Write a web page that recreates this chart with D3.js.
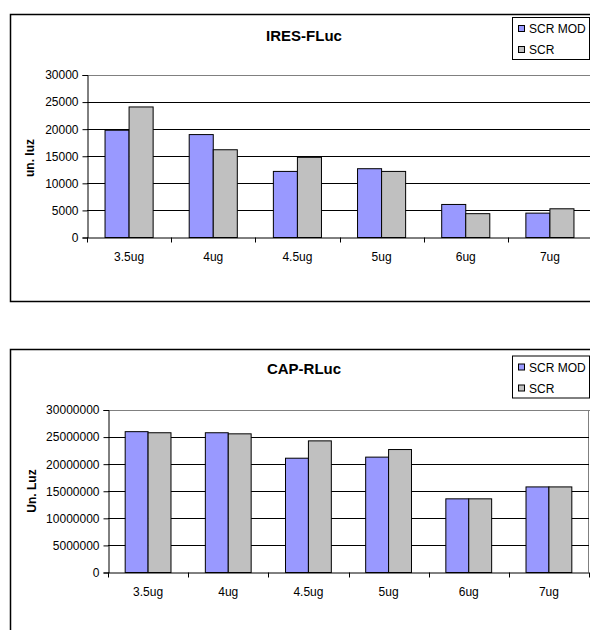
<!DOCTYPE html>
<html>
<head>
<meta charset="utf-8">
<script src="https://cdn.jsdelivr.net/npm/d3@7"></script>
<style>
  html, body { margin: 0; padding: 0; background: #fff; }
  svg { display: block; font-family: "Liberation Sans", Arial, sans-serif; }
</style>
</head>
<body>
<svg id="chart" width="590" height="630"></svg>
<script>
// ---- data ----
const categories = ["3.5ug", "4ug", "4.5ug", "5ug", "6ug", "7ug"];
const seriesNames = ["SCR MOD", "SCR"];
const seriesColors = ["#9999FF", "#C0C0C0"];

const iresTitle = "IRES-FLuc";
const iresYLabel = "un. luz";
const iresMod = [19800, 19000, 12200, 12700, 6100, 4500];
const iresScr = [24100, 16200, 14800, 12200, 4400, 5300];
const iresTicks = [0, 5000, 10000, 15000, 20000, 25000, 30000];

const capTitle = "CAP-RLuc";
const capYLabel = "Un. Luz";
const capMod = [26000000, 25800000, 21100000, 21300000, 13600000, 15800000];
const capScr = [25800000, 25600000, 24300000, 22700000, 13600000, 15800000];
const capTicks = [0, 5000000, 10000000, 15000000, 20000000, 25000000, 30000000];

// ---- drawing ----
const svg = d3.select("#chart");

function drawChart(cfg) {
  const g = svg.append("g");
  // outer frame
  g.append("rect")
    .attr("x", cfg.frame[0]).attr("y", cfg.frame[1])
    .attr("width", cfg.frame[2]).attr("height", cfg.frame[3])
    .attr("fill", "#fff").attr("stroke", "#000").attr("stroke-width", 1.5);

  const x0 = d3.scaleBand().domain(categories)
    .range([cfg.left, cfg.right])
    .paddingInner(3 / 7).paddingOuter(1.5 / 7);
  const x1 = d3.scaleBand().domain(seriesNames).range([0, x0.bandwidth()]);
  const y = d3.scaleLinear().domain([0, d3.max(cfg.ticks)]).range([cfg.bottom, cfg.top]);

  // plot area top/right border (gray)
  g.append("line")
    .attr("x1", cfg.left).attr("x2", cfg.right + 5)
    .attr("y1", cfg.top + 0.5).attr("y2", cfg.top + 0.5)
    .attr("stroke", "#808080").attr("stroke-width", 1);
  g.append("line")
    .attr("x1", cfg.right - 0.5).attr("x2", cfg.right - 0.5)
    .attr("y1", cfg.top).attr("y2", cfg.bottom)
    .attr("stroke", "#808080").attr("stroke-width", 1);

  // gridlines
  g.append("g").selectAll("line")
    .data(cfg.ticks.filter(t => t > 0 && t < d3.max(cfg.ticks)))
    .join("line")
    .attr("x1", cfg.left).attr("x2", cfg.right)
    .attr("y1", d => Math.round(y(d)) + 0.5).attr("y2", d => Math.round(y(d)) + 0.5)
    .attr("stroke", "#000").attr("stroke-width", 1);

  // bars
  const rows = categories.map((c, i) => ({ cat: c, vals: [cfg.mod[i], cfg.scr[i]] }));
  g.append("g").selectAll("g")
    .data(rows).join("g")
    .attr("transform", d => `translate(${x0(d.cat)},0)`)
    .selectAll("rect")
    .data(d => d.vals.map((v, j) => ({ name: seriesNames[j], v, j })))
    .join("rect")
    .attr("x", d => x1(d.name))
    .attr("y", d => y(d.v))
    .attr("width", x1.bandwidth())
    .attr("height", d => y(0) - y(d.v))
    .attr("fill", d => seriesColors[d.j])
    .attr("stroke", "#000").attr("stroke-width", 1);

  // y axis
  const yAxis = g.append("g")
    .attr("transform", `translate(${cfg.left + 0.5},0)`)
    .call(d3.axisLeft(y).tickValues(cfg.ticks).tickFormat(d3.format("d")).tickSize(5).tickPadding(4));
  yAxis.select(".domain").attr("stroke", "#000");
  yAxis.selectAll(".tick line").attr("stroke", "#000");
  yAxis.selectAll("text").attr("font-size", 12).attr("fill", "#000")
    .attr("font-family", "Liberation Sans, Arial, sans-serif");

  // x axis with ticks at category boundaries
  const step = x0.step();
  const bounds = d3.range(categories.length + 1).map(i => cfg.left + i * step);
  const xAxisG = g.append("g");
  xAxisG.append("line")
    .attr("x1", cfg.left).attr("x2", cfg.right)
    .attr("y1", y(0) + 0.5).attr("y2", y(0) + 0.5)
    .attr("stroke", "#000");
  xAxisG.selectAll(".bt").data(bounds).join("line")
    .attr("class", "bt")
    .attr("x1", d => Math.round(d) + 0.5).attr("x2", d => Math.round(d) + 0.5)
    .attr("y1", y(0)).attr("y2", y(0) + 5)
    .attr("stroke", "#000");
  xAxisG.selectAll("text").data(categories).join("text")
    .attr("x", d => x0(d) + x0.bandwidth() / 2)
    .attr("y", y(0) + 23)
    .attr("text-anchor", "middle")
    .attr("font-size", 12)
    .text(d => d);

  // title
  g.append("text")
    .attr("x", cfg.titleX).attr("y", cfg.titleY)
    .attr("text-anchor", "middle")
    .attr("font-size", 15).attr("font-weight", "bold")
    .text(cfg.title);

  // y label
  g.append("text")
    .attr("transform", `translate(${cfg.ylabX},${cfg.ylabY}) rotate(-90)`)
    .attr("text-anchor", "middle")
    .attr("font-size", 12).attr("font-weight", "bold")
    .text(cfg.ylabel);

  // legend
  const lg = g.append("g");
  lg.append("rect")
    .attr("x", cfg.legend[0] + 0.5).attr("y", cfg.legend[1] + 0.5)
    .attr("width", cfg.legend[2]).attr("height", cfg.legend[3])
    .attr("fill", "#fff").attr("stroke", "#000").attr("stroke-width", 1);
  seriesNames.forEach((n, i) => {
    const cy = cfg.legend[1] + 11.5 + i * 21;
    lg.append("rect")
      .attr("x", cfg.legend[0] + 6.5).attr("y", cy - 3)
      .attr("width", 6).attr("height", 6)
      .attr("fill", seriesColors[i]).attr("stroke", "#000").attr("stroke-width", 1);
    lg.append("text")
      .attr("x", cfg.legend[0] + 17).attr("y", cy + 4.5)
      .attr("font-size", 12)
      .text(n);
  });
}

drawChart({
  frame: [10.5, 14.5, 620, 287],
  left: 87, right: 592, top: 75, bottom: 237.5,
  ticks: iresTicks, mod: iresMod, scr: iresScr,
  title: iresTitle, titleX: 304, titleY: 41,
  ylabel: iresYLabel, ylabX: 34, ylabY: 158,
  legend: [512, 17, 77, 42]
});

drawChart({
  frame: [10.5, 349.5, 620, 300],
  left: 108, right: 589, top: 410, bottom: 572.5,
  ticks: capTicks, mod: capMod, scr: capScr,
  title: capTitle, titleX: 304, titleY: 374,
  ylabel: capYLabel, ylabX: 36, ylabY: 491,
  legend: [512, 355.5, 77, 42]
});
</script>
</body>
</html>
